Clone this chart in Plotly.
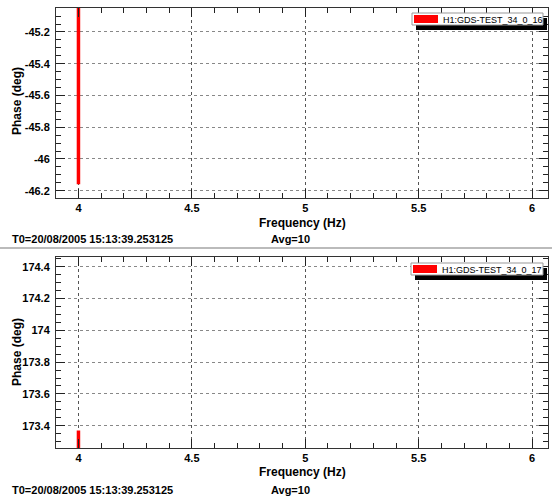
import plotly.graph_objects as go

# ---- data ----
freq_top = [4.0, 4.0]
phase_top = [-46.16, -45.0]
freq_bot = [4.0, 4.0]
phase_bot = [173.2, 173.37]
series_names = ["H1:GDS-TEST_34_0_16", "H1:GDS-TEST_34_0_17"]

x_tickvals = [4, 4.5, 5, 5.5, 6]
x_ticktext = ["4", "4.5", "5", "5.5", "6"]
top_tickvals = [-45.2, -45.4, -45.6, -45.8, -46.0, -46.2]
top_ticktext = ["-45.2", "-45.4", "-45.6", "-45.8", "-46", "-46.2"]
bot_tickvals = [174.4, 174.2, 174.0, 173.8, 173.6, 173.4]
bot_ticktext = ["174.4", "174.2", "174", "173.8", "173.6", "173.4"]
t0_text = "T0=20/08/2005 15:13:39.253125"
avg_text = "Avg=10"
xlabel = "Frequency (Hz)"
ylabel = "Phase (deg)"

W, H = 552, 498
def px(x):
    return x / W
def py(y):
    return 1 - y / H

FONT = "Liberation Sans, Arial, sans-serif"

fig = go.Figure()
fig.add_trace(go.Scatter(x=freq_top, y=phase_top, mode="lines",
                         line=dict(color="#ff0000", width=3.5),
                         xaxis="x", yaxis="y", name=series_names[0], showlegend=False))
fig.add_trace(go.Scatter(x=freq_bot, y=phase_bot, mode="lines",
                         line=dict(color="#ff0000", width=3.5),
                         xaxis="x2", yaxis="y2", name=series_names[1], showlegend=False))

xdom = [px(56), px(548)]
xcommon = dict(range=[3.901, 6.07], tickvals=x_tickvals, ticktext=x_ticktext,
               ticks="inside", ticklen=9, tickcolor="#222", tickwidth=1,
               showline=True, linecolor="#333", linewidth=1, mirror="allticks",
               showgrid=True, gridcolor="#555", griddash="dot", gridwidth=1,
               zeroline=False, domain=xdom,
               tickfont=dict(family=FONT, size=11, color="#000", weight="bold"),
               minor=dict(ticks="inside", ticklen=5, dtick=0.1, tick0=4,
                          tickcolor="#222", showgrid=False))
ycommon = dict(ticks="inside", ticklen=9, tickcolor="#222", tickwidth=1,
               showline=True, linecolor="#333", linewidth=1, mirror="allticks",
               showgrid=True, gridcolor="#888", griddash="dot", gridwidth=1,
               zeroline=False,
               tickfont=dict(family=FONT, size=11, color="#000", weight="bold"),
               ticklabelstandoff=3)

fig.update_layout(
    width=W, height=H, margin=dict(l=0, r=0, t=0, b=0),
    paper_bgcolor="white", plot_bgcolor="white", showlegend=False,
    xaxis=dict(**xcommon, anchor="y"),
    yaxis=dict(**ycommon, anchor="x", domain=[py(198), py(8)],
               range=[-46.246, -45.049], tickvals=top_tickvals, ticktext=top_ticktext,
               minor=dict(ticks="inside", ticklen=5, dtick=0.05, tick0=-46.2,
                          tickcolor="#222", showgrid=False)),
    xaxis2=dict(**xcommon, anchor="y2"),
    yaxis2=dict(**ycommon, anchor="x2", domain=[py(448), py(257)],
                range=[173.26, 174.461], tickvals=bot_tickvals, ticktext=bot_ticktext,
                minor=dict(ticks="inside", ticklen=5, dtick=0.05, tick0=173.4,
                           tickcolor="#222", showgrid=False)),
)

anns = []
shapes = []
bold = dict(family=FONT, size=12, color="#000", weight="bold")
for (label_y, t0_y, ylab_y) in [(223, 239, 101), (472, 490, 352)]:
    anns.append(dict(text=xlabel, x=px(302), y=py(label_y), xref="paper", yref="paper",
                     showarrow=False, xanchor="center", yanchor="middle", font=bold))
    anns.append(dict(text=t0_text, x=px(10), y=py(t0_y), xref="paper", yref="paper",
                     showarrow=False, xanchor="left", yanchor="middle",
                     font=dict(family=FONT, size=11, color="#000", weight="bold")))
    anns.append(dict(text=avg_text, x=px(290), y=py(t0_y), xref="paper", yref="paper",
                     showarrow=False, xanchor="center", yanchor="middle",
                     font=dict(family=FONT, size=11, color="#000", weight="bold")))
    anns.append(dict(text=ylabel, x=px(17), y=py(ylab_y), xref="paper", yref="paper",
                     showarrow=False, xanchor="center", yanchor="middle", textangle=-90,
                     font=bold))

# legends (shadow + box + swatch + text)
for name, (bx0, by0, bx1, by1) in zip(series_names, [(412, 13, 543, 25), (411, 263, 543, 275)]):
    shapes.append(dict(type="rect", xref="paper", yref="paper",
                       x0=px(bx0 + 4), x1=px(bx1 + 4), y0=py(by1 + 5), y1=py(by0 + 5),
                       fillcolor="#000", line=dict(width=0), layer="above"))
    shapes.append(dict(type="rect", xref="paper", yref="paper",
                       x0=px(bx0), x1=px(bx1), y0=py(by1), y1=py(by0),
                       fillcolor="white", line=dict(color="#999", width=1), layer="above"))
    shapes.append(dict(type="rect", xref="paper", yref="paper",
                       x0=px(bx0 + 2), x1=px(bx0 + 26), y0=py(by1 - 2), y1=py(by0 + 2),
                       fillcolor="#ff0000", line=dict(width=0), layer="above"))
    anns.append(dict(text=name, x=px(bx0 + 29), y=py((by0 + by1) / 2 + 0.5),
                     xref="paper", yref="paper", showarrow=False, xanchor="left",
                     yanchor="middle", font=dict(family=FONT, size=9, color="#000")))

# separator line between panels
shapes.append(dict(type="line", xref="paper", yref="paper", x0=0, x1=1,
                   y0=py(248), y1=py(248), line=dict(color="#bbb", width=2)))

fig.update_layout(annotations=anns, shapes=shapes)
fig.write_html("out.html", config={"displayModeBar": False},
               post_script="document.body.style.margin='0';document.body.style.overflow='hidden';")
